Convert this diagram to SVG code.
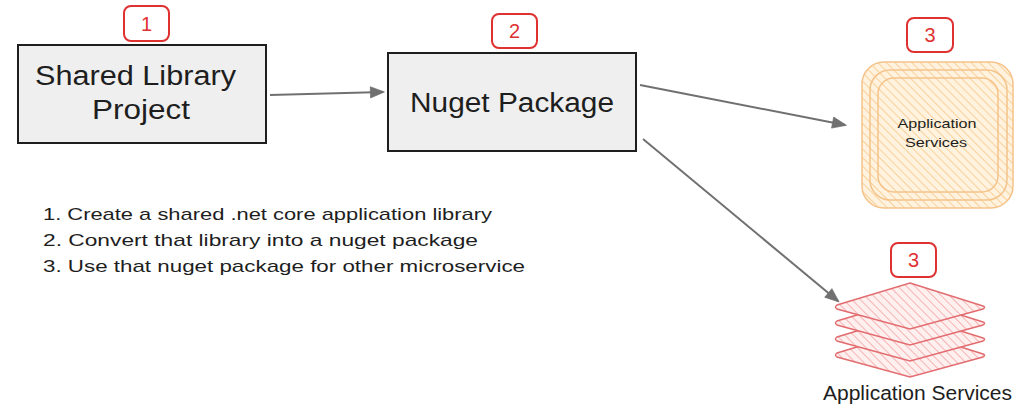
<svg xmlns="http://www.w3.org/2000/svg" width="1022" height="409" viewBox="0 0 1022 409">
<defs>
<pattern id="hOr" width="6" height="6" patternUnits="userSpaceOnUse" patternTransform="rotate(-45)">
<rect width="6" height="6" fill="#fff3df"/>
<line x1="0" y1="0" x2="0" y2="6" stroke="#f7c98a" stroke-width="1.6"/>
</pattern>
<pattern id="hRd" width="6" height="6" patternUnits="userSpaceOnUse" patternTransform="rotate(-45)">
<rect width="6" height="6" fill="#fff0f0"/>
<line x1="0" y1="0" x2="0" y2="6" stroke="#f4a3a3" stroke-width="1.6"/>
</pattern>
<marker id="ahL" viewBox="0 0 10 10" refX="9" refY="5" markerWidth="16" markerHeight="14" markerUnits="userSpaceOnUse" orient="auto">
<path d="M0,1 L10,5 L0,9 Z" fill="#707070" stroke="#707070" stroke-width="0.5"/>
</marker>
</defs>
<style>
.box{fill:#efefef;stroke:#1e1e1e;stroke-width:2}
.badge{fill:#fff;stroke:#e03131;stroke-width:2}
.bt{font-family:"Liberation Sans",sans-serif;font-size:20px;fill:#e03131;text-anchor:middle}
.lbl{font-family:"Liberation Sans",sans-serif;fill:#1e1e1e;text-anchor:middle}
.conn{fill:none;stroke:#707070;stroke-width:2}
.orr{fill:url(#hOr);stroke:#f5c38a;stroke-width:1.5}
.rd{fill:url(#hRd);stroke:#e26d70;stroke-width:1.5}
.list{font-family:"Liberation Sans",sans-serif;font-size:17px;fill:#1e1e1e}
</style>
<rect width="1022" height="409" fill="#fff"/>
<g id="connectors">
<path class="conn" d="M270,95 L383,92" marker-end="url(#ahL)"/>
<path class="conn" d="M640,85 L845,125" marker-end="url(#ahL)"/>
<path class="conn" d="M643,139 L838,301" stroke-width="1.5" marker-end="url(#ahL)"/>
</g>
<g id="node-shared">
<rect class="box" x="18" y="45" width="248" height="98"/>
<text class="lbl" x="135.5" y="85" font-size="27" textLength="201" lengthAdjust="spacingAndGlyphs">Shared Library</text>
<text class="lbl" x="141" y="119" font-size="27" textLength="98" lengthAdjust="spacingAndGlyphs">Project</text>
</g>
<g id="badge-1">
<rect class="badge" x="124" y="6" width="45" height="35" rx="7"/>
<text class="bt" x="146.5" y="31">1</text>
</g>
<g id="node-nuget">
<rect class="box" x="388" y="53" width="248" height="98"/>
<text class="lbl" x="512" y="112" font-size="27" textLength="204" lengthAdjust="spacingAndGlyphs">Nuget Package</text>
</g>
<g id="badge-2">
<rect class="badge" x="492" y="14" width="45" height="34" rx="7"/>
<text class="bt" x="514.5" y="38">2</text>
</g>
<g id="node-app-services-1">
<rect class="orr" x="862" y="62" width="151" height="146" rx="22"/>
<rect class="orr" x="870" y="70" width="137" height="130" rx="20"/>
<rect class="orr" x="878" y="78" width="120" height="114" rx="16"/>
<text class="lbl" x="937" y="128" font-size="13" textLength="79" lengthAdjust="spacingAndGlyphs">Application</text>
<text class="lbl" x="936" y="147" font-size="13" textLength="62" lengthAdjust="spacingAndGlyphs">Services</text>
</g>
<g id="badge-3a">
<rect class="badge" x="907" y="18" width="46" height="34" rx="7"/>
<text class="bt" x="930" y="42">3</text>
</g>
<g id="node-app-services-2">
<path class="rd" d="M910,331 L983,354 Q986,355 983,357 L910,377 L837,357 Q834,355 837,353 Z"/>
<path class="rd" d="M910,315 L983,338 Q986,339 983,341 L910,361 L837,341 Q834,339 837,337 Z"/>
<path class="rd" d="M910,299 L983,322 Q986,323 983,325 L910,345 L837,325 Q834,323 837,321 Z"/>
<path class="rd" d="M910,283 L983,306 Q986,307 983,309 L910,329 L837,309 Q834,307 837,305 Z"/>
<text class="lbl" x="917.5" y="400" font-size="20" textLength="189" lengthAdjust="spacingAndGlyphs">Application Services</text>
</g>
<g id="badge-3b">
<rect class="badge" x="891" y="243" width="45" height="34" rx="7"/>
<text class="bt" x="913.5" y="267">3</text>
</g>
<g id="notes">
<text class="list" x="43" y="220" textLength="449" lengthAdjust="spacingAndGlyphs">1. Create a shared .net core application library</text>
<text class="list" x="43" y="246" textLength="435" lengthAdjust="spacingAndGlyphs">2. Convert that library into a nuget package</text>
<text class="list" x="43" y="272" textLength="482" lengthAdjust="spacingAndGlyphs">3. Use that nuget package for other microservice</text>
</g>
</svg>
